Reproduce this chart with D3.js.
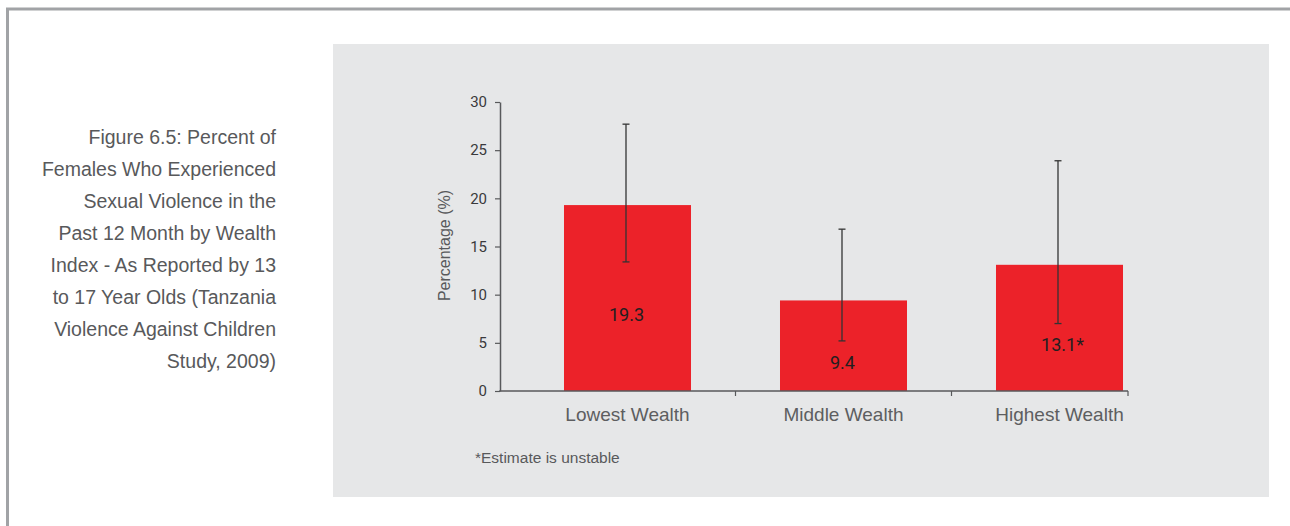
<!DOCTYPE html>
<html>
<head>
<meta charset="utf-8">
<script src="https://cdn.jsdelivr.net/npm/d3@7"></script>
<style>
  html, body { margin: 0; padding: 0; background: #ffffff; }
  svg { display: block; }
  text { font-family: "Liberation Sans", Arial, sans-serif; }
  .num { font-family: Roboto, "Liberation Sans", Arial, sans-serif; }
</style>
</head>
<body>
<svg id="chart" width="1290" height="526"></svg>
<script>
// Sexual violence among females aged 13-17, by wealth index
const categories = ["Lowest Wealth", "Middle Wealth", "Highest Wealth"];
const values = [19.3, 9.4, 13.1];
const valueLabels = ["19.3", "9.4", "13.1*"];
const ciLow = [13.4, 5.2, 7.0];
const ciHigh = [27.7, 16.8, 23.9];
const yTicks = [0, 5, 10, 15, 20, 25, 30];
const titleLines = [
  "Figure 6.5: Percent of",
  "Females Who Experienced",
  "Sexual Violence in the",
  "Past 12 Month by Wealth",
  "Index - As Reported by 13",
  "to 17 Year Olds (Tanzania",
  "Violence Against Children",
  "Study, 2009)"
];
const yTitle = "Percentage (%)";
const footnote = "*Estimate is unstable";

const svg = d3.select("#chart");

// page frame
svg.append("path")
  .attr("d", "M7.5,526 L7.5,9 L1290,9")
  .attr("fill", "none")
  .attr("stroke", "#a1a3a6")
  .attr("stroke-width", 3);

// figure caption on the left
svg.append("g")
  .selectAll("text")
  .data(titleLines)
  .join("text")
  .attr("x", 276)
  .attr("y", (d, i) => 143.5 + i * 32)
  .attr("text-anchor", "end")
  .attr("font-size", 19.5)
  .attr("fill", "#58595b")
  .text(d => d);

// grey chart panel
svg.append("rect")
  .attr("x", 333).attr("y", 44)
  .attr("width", 936).attr("height", 453)
  .attr("fill", "#e6e7e8");

const plotLeft = 500;
const y = d3.scaleLinear().domain([0, 30]).range([391, 102]);
const x = d3.scaleBand()
  .domain(categories)
  .range([519.5, 1167.5])
  .paddingInner(0.412)
  .paddingOuter(0.206);

const axisColor = "#58595b";

// y axis
const yAxis = svg.append("g")
  .attr("transform", `translate(${plotLeft},0)`)
  .call(d3.axisLeft(y).tickValues(yTicks).tickSize(5).tickPadding(8).tickSizeOuter(0));
yAxis.select(".domain").attr("stroke", axisColor).attr("stroke-width", 1.5);
yAxis.selectAll(".tick line").attr("stroke", axisColor).attr("stroke-width", 1.2);
yAxis.selectAll(".tick text")
  .attr("class", "num")
  .attr("font-family", null)
  .attr("font-size", 15)
  .attr("fill", "#3a3a3c");

// y axis title
svg.append("text")
  .attr("transform", `translate(449.5,${(y(0) + y(30)) / 2 - 1}) rotate(-90)`)
  .attr("text-anchor", "middle")
  .attr("font-size", 16)
  .attr("fill", "#58595b")
  .text(yTitle);

// bars
svg.append("g")
  .selectAll("rect")
  .data(categories)
  .join("rect")
  .attr("x", d => x(d))
  .attr("y", (d, i) => y(values[i]))
  .attr("width", x.bandwidth())
  .attr("height", (d, i) => y(0) - y(values[i]))
  .attr("fill", "#ec2229");

// x axis: baseline with ticks between categories and at the end
const axisEnd = x(categories[categories.length - 1]) + x.bandwidth() + 5;
const gap = x.step() - x.bandwidth();
const xTickPos = categories.slice(0, -1).map(c => x(c) + x.bandwidth() + gap / 2).concat([axisEnd]);
const xAxisG = svg.append("g");
xAxisG.append("line")
  .attr("x1", plotLeft - 0.75).attr("x2", axisEnd)
  .attr("y1", y(0)).attr("y2", y(0))
  .attr("stroke", axisColor).attr("stroke-width", 1.5);
xAxisG.selectAll("line.tick")
  .data(xTickPos)
  .join("line")
  .attr("class", "tick")
  .attr("x1", d => d).attr("x2", d => d)
  .attr("y1", y(0)).attr("y2", y(0) + 5)
  .attr("stroke", axisColor).attr("stroke-width", 1.2);
xAxisG.selectAll("text")
  .data(categories)
  .join("text")
  .attr("x", d => x(d) + x.bandwidth() / 2)
  .attr("y", y(0) + 30)
  .attr("text-anchor", "middle")
  .attr("font-size", 19)
  .attr("fill", "#5d5e60")
  .text(d => d);

// confidence intervals
const eb = svg.append("g").attr("stroke", "#333333").attr("stroke-width", 1.3);
categories.forEach((c, i) => {
  const cx = x(c) + x.bandwidth() / 2 - 1.5;
  eb.append("line").attr("x1", cx).attr("x2", cx).attr("y1", y(ciHigh[i])).attr("y2", y(ciLow[i]));
  eb.append("line").attr("x1", cx - 3.5).attr("x2", cx + 3.5).attr("y1", y(ciHigh[i])).attr("y2", y(ciHigh[i]));
  eb.append("line").attr("x1", cx - 3.5).attr("x2", cx + 3.5).attr("y1", y(ciLow[i])).attr("y2", y(ciLow[i]));
});

// value labels inside the bars
svg.append("g")
  .selectAll("text")
  .data(categories)
  .join("text")
  .attr("class", "num")
  .attr("x", (d, i) => x(d) + x.bandwidth() / 2 + (valueLabels[i].endsWith("*") ? 3 : -1))
  .attr("y", (d, i) => y(values[i] / 2) + 23)
  .attr("text-anchor", "middle")
  .attr("font-size", 18)
  .attr("fill", "#231f20")
  .text((d, i) => valueLabels[i]);

// footnote
svg.append("text")
  .attr("x", 475)
  .attr("y", 463)
  .attr("font-size", 15.5)
  .attr("fill", "#58595b")
  .text(footnote);
</script>
</body>
</html>
